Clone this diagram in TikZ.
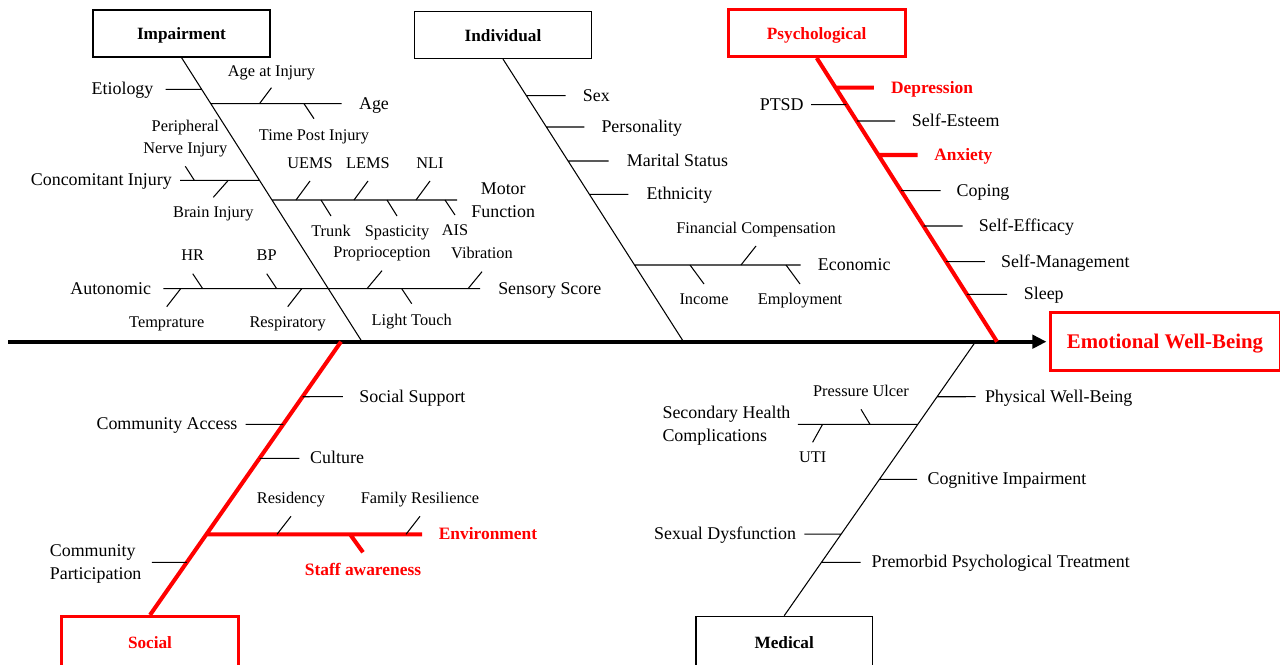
\documentclass[tikz,border=0pt]{standalone}
\usepackage{fontspec}
\setmainfont{Liberation Serif}
\usetikzlibrary{arrows.meta}

\newcommand\mainsize{\fontsize{10.2}{13}\selectfont}
\newcommand\subsize{\fontsize{9.3}{12.6}\selectfont}

\tikzset{
  cat/.style={draw,line width=0.9pt,minimum width=3.54cm,minimum height=0.94cm,
    text height=7.4pt,text depth=0pt,font=\fontsize{9.8}{12}\selectfont\bfseries},
  hotcat/.style={cat,draw=red,text=red,line width=1.7pt},
  lbl/.style={font=\mainsize,inner ysep=0pt,text height=7pt,text depth=0.6pt},
  ml/.style={font=\mainsize,inner ysep=0pt,align=left},
  sub/.style={font=\subsize,inner sep=0pt,text height=6.4pt,text depth=2pt},
  subml/.style={font=\subsize,inner sep=0pt,align=center},
  hot/.style={lbl,text=red,font=\fontsize{9.9}{12}\selectfont\bfseries},
  rt/.style={anchor=west,inner xsep=#1}, rt/.default=9.6pt,
  lt/.style={anchor=east,inner xsep=#1}, lt/.default=4.5pt,
  bone/.style={line width=0.6pt},
  hotbone/.style={draw=red,line width=2.3pt},
  spine/.style={line width=2.3pt,-{Triangle[length=8pt,width=7.6pt]},shorten >=1.2pt},
}

\begin{document}
\begin{tikzpicture}[x=0.02cm,y=-0.02cm]
\useasboundingbox (0,0) rectangle (1280,665);

% head and backbone
\node[hotcat,minimum width=4.6cm,minimum height=1.16cm,
  font=\fontsize{11.85}{14}\selectfont\bfseries] (ewb) at (1165,341.7) {Emotional Well-Being};
\coordinate (tail) at (8,341.7);
\draw[spine] (tail) -- (ewb);

% categories
\node[cat] (imp) at (181.5,33.3) {Impairment};
\node[cat] (ind) at (503,34.8) {Individual};
\node[hotcat] (psy) at (816.7,33) {Psychological};
\node[hotcat,minimum height=1.02cm] (soc) at (150,642) {Social};
\node[cat,minimum height=1.02cm] (med) at (784.2,642) {Medical};
\coordinate (simp) at (362,341.7);
\coordinate (sind) at (683.5,341.7);
\coordinate (spsy) at (997,341.7);
\coordinate (ssoc) at (341,341.7);
\coordinate (smed) at (975.5,341.7);

% Impairment
\node[lbl,lt=6.8pt] (etio) at (165.7,89.3) {Etiology};
\node[lbl,rt=9.7pt] (age) at (341.7,103.7) {Age};
\node[lbl,lt] (conc) at (180,180.3) {Concomitant Injury};
\node[ml,align=center,rt=8pt] (motor) at (457,200) {Motor\\Function};
\node[lbl,rt=10.2pt] (sens) at (480,288.7) {Sensory Score};
\node[lbl,lt=6.8pt] (auton) at (163.3,288.7) {Autonomic};
\draw[bone] (imp.south) -- (simp)
  (etio) -- (intersection of imp.south--simp and etio.west--etio.east)
  (age) -- (intersection of imp.south--simp and age.west--age.east)
  (conc) -- (intersection of imp.south--simp and conc.west--conc.east)
  (motor) -- (intersection of imp.south--simp and motor.west--motor.east)
  (auton) -- (sens);
\draw[bone]
  (259.5,0 |- age) -- +(12,-16) node[sub,above=4pt] (ageinj) {Age at Injury}
  (304,0 |- age) -- +(10,15) node[sub,below=5.5pt] (tpi) {Time Post Injury}
  (194.3,0 |- conc) -- +(-9,-14) node[subml,above=5pt] (pni) {Peripheral\\Nerve Injury}
  (228.3,0 |- conc) -- +(-15,17) node[sub,below=5pt] (brain) {Brain Injury}
  (296,0 |- motor) -- +(14,-19) node[sub,above=5pt] (uems) {UEMS}
  (354,0 |- motor) -- +(14,-19) node[sub,above=5pt] (lems) {LEMS}
  (416,0 |- motor) -- +(14,-19) node[sub,above=5pt] (nli) {NLI}
  (321,0 |- motor) -- +(10,16) node[sub,below=5pt] (trunk) {Trunk}
  (387,0 |- motor) -- +(10,16) node[sub,below=5pt] (spas) {Spasticity}
  (445,0 |- motor) -- +(10,15) node[sub,below=5pt] (ais) {AIS}
  (367,0 |- sens) -- +(15,-18) node[sub,above=5pt] (prop) {Proprioception}
  (468,0 |- sens) -- +(14,-17) node[sub,above=5pt] (vib) {Vibration}
  (401.7,0 |- sens) -- +(10,15) node[sub,below=5.5pt] (touch) {Light Touch}
  (202.7,0 |- auton) -- +(-10,-15) node[sub,above=5pt] (hr) {HR}
  (276.7,0 |- auton) -- +(-10,-15) node[sub,above=5pt] (bp) {BP}
  (180.7,0 |- auton) -- +(-14,18) node[sub,below=5pt] (temp) {Temprature}
  (301.7,0 |- auton) -- +(-14,18) node[sub,below=5pt] (resp) {Respiratory};

% Individual
\node[lbl,rt] (sex) at (565.7,95.7) {Sex};
\node[lbl,rt] (pers) at (584.3,127) {Personality};
\node[lbl,rt=10.2pt] (marit) at (608.7,161) {Marital Status};
\node[lbl,rt=10.2pt] (ethn) at (628.3,194.3) {Ethnicity};
\node[lbl,rt] (econ) at (800.7,265) {Economic};
\draw[bone] (ind.south) -- (sind)
  (sex) -- (intersection of ind.south--sind and sex.west--sex.east)
  (pers) -- (intersection of ind.south--sind and pers.west--pers.east)
  (marit) -- (intersection of ind.south--sind and marit.west--marit.east)
  (ethn) -- (intersection of ind.south--sind and ethn.west--ethn.east)
  (econ) -- (intersection of ind.south--sind and econ.west--econ.east);
\draw[bone]
  (741,0 |- econ) -- +(15,-19) node[sub,above=5pt] (fin) {Financial Compensation}
  (690,0 |- econ) -- +(14,19) node[sub,below=5pt] (inc) {Income}
  (786,0 |- econ) -- +(14,19) node[sub,below=5pt] (empl) {Employment};

% Psychological
\node[hot,rt] (dep) at (873.9,87.7) {Depression};
\node[lbl,lt=4pt] (ptsd) at (811,104.7) {PTSD};
\node[lbl,rt=9.4pt] (estm) at (895,121) {Self-Esteem};
\node[hot,rt=9.4pt] (anx) at (917.5,155) {Anxiety};
\node[lbl,rt=9pt] (cope) at (940.5,190.7) {Coping};
\node[lbl,rt=9pt] (effi) at (962.7,226) {Self-Efficacy};
\node[lbl,rt=9pt] (mgmt) at (984.9,261.7) {Self-Management};
\node[lbl,rt=9.4pt] (sleep) at (1007,294.3) {Sleep};
\draw[hotbone] (psy.south) -- (spsy)
  (dep) -- (intersection of psy.south--spsy and dep.west--dep.east)
  (anx) -- (intersection of psy.south--spsy and anx.west--anx.east);
\draw[bone]
  (ptsd) -- (intersection of psy.south--spsy and ptsd.west--ptsd.east)
  (estm) -- (intersection of psy.south--spsy and estm.west--estm.east)
  (cope) -- (intersection of psy.south--spsy and cope.west--cope.east)
  (effi) -- (intersection of psy.south--spsy and effi.west--effi.east)
  (mgmt) -- (intersection of psy.south--spsy and mgmt.west--mgmt.east)
  (sleep) -- (intersection of psy.south--spsy and sleep.west--sleep.east);

% Social
\node[lbl,rt=9.2pt] (supp) at (342.9,396.7) {Social Support};
\node[lbl,lt] (access) at (245.7,424.3) {Community Access};
\node[lbl,rt=6pt] (cult) at (299.3,458.3) {Culture};
\node[hot,rt=9.4pt] (env) at (422,534.3) {Environment};
\node[ml,lt=5.7pt,text depth=-1.2pt] (partic) at (151.8,562.3) {Community\\Participation};
\draw[hotbone] (soc.north) -- (ssoc)
  (env) -- (intersection of soc.north--ssoc and env.west--env.east)
  (350,0 |- env) -- +(13,18) node[hot,below=5pt] (staff) {Staff awareness};
\draw[bone]
  (supp) -- (intersection of soc.north--ssoc and supp.west--supp.east)
  (access) -- (intersection of soc.north--ssoc and access.west--access.east)
  (cult) -- (intersection of soc.north--ssoc and cult.west--cult.east)
  (partic) -- (intersection of soc.north--ssoc and partic.west--partic.east)
  (277,0 |- env) -- +(14,-18) node[sub,above=5pt] (resid) {Residency}
  (406,0 |- env) -- +(14,-18) node[sub,above=5pt] (family) {Family Resilience};

% Medical
\node[lbl,rt=5.2pt] (phys) at (975.5,396.7) {Physical Well-Being};
\node[ml,lt=4pt,text depth=0.5pt] (second) at (797.8,424.3) {Secondary Health\\Complications};
\node[lbl,rt=5.8pt] (cogn) at (917,479.3) {Cognitive Impairment};
\node[lbl,lt] (sexd) at (804.3,534) {Sexual Dysfunction};
\node[lbl,rt=6pt] (premo) at (860.7,562.3) {Premorbid Psychological Treatment};
\draw[bone] (med.north) -- (smed)
  (phys) -- (intersection of med.north--smed and phys.west--phys.east)
  (second) -- (intersection of med.north--smed and second.west--second.east)
  (cogn) -- (intersection of med.north--smed and cogn.west--cogn.east)
  (sexd) -- (intersection of med.north--smed and sexd.west--sexd.east)
  (premo) -- (intersection of med.north--smed and premo.west--premo.east)
  (870,0 |- second) -- +(-9,-15) node[sub,above=5pt] (ulcer) {Pressure Ulcer}
  (822.6,0 |- second) -- +(-10,18) node[sub,below=5pt] (uti) {UTI};
\end{tikzpicture}
\end{document}
